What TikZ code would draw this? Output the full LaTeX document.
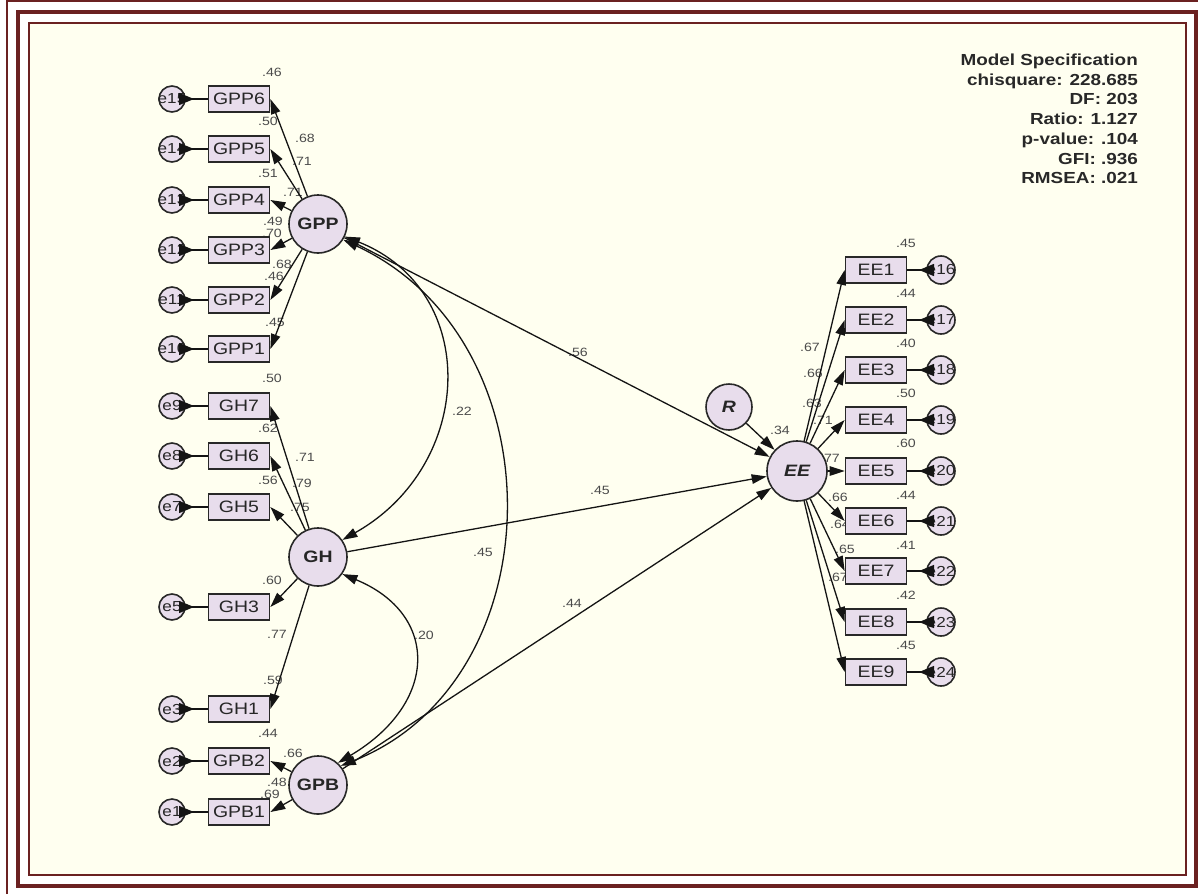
\documentclass[tikz,border=0pt]{standalone}
\usepackage{fontspec}
\setmainfont{Liberation Sans}[FakeStretch=1.18]
\usetikzlibrary{arrows.meta,decorations.markings}
\definecolor{framecol}{RGB}{107,33,33}
\definecolor{paper}{RGB}{255,255,240}
\definecolor{nodefill}{RGB}{232,221,236}
\definecolor{edgecol}{RGB}{40,40,40}
\definecolor{linecol}{RGB}{20,20,20}
\definecolor{numcol}{RGB}{75,75,75}
\definecolor{speccol}{RGB}{40,40,40}
\begin{document}
\begin{tikzpicture}[x=1pt,y=-1pt,
  >={Triangle[length=15pt,width=9.5pt]},
  ln/.style={draw=linecol, line width=1.3pt},
  obs/.style={draw=edgecol, line width=1.7pt, fill=nodefill, minimum width=61pt, minimum height=26pt, inner sep=0pt, font=\fontsize{16.5}{16.5}\selectfont, text=black!85},
  err/.style={circle, draw=edgecol, line width=1.6pt, fill=nodefill, minimum size=#1, inner sep=0pt, font=\fontsize{14.5}{14.5}\selectfont, text=black!85},
  err/.default=26pt,
  lat/.style={circle, draw=edgecol, line width=1.6pt, fill=nodefill, minimum size=#1, inner sep=0pt, font=\bfseries\fontsize{16.5}{16.5}\selectfont, text=black!85},
  lat/.default=58pt,
  num/.style={inner sep=0pt, text=numcol, font=\fontsize{12}{12}\selectfont},
  load/.style={ln, ->},
  cov/.style={ln, <->},
  errpath/.style={ln, shorten <=#1, postaction={decorate},
    decoration={markings, mark=at position 22pt with {\arrow{Triangle[length=15pt,width=12pt]}}}},
  errpath/.default=7pt,
  spec/.style={anchor=base east, inner sep=0pt, font=\bfseries\fontsize{16}{16}\selectfont, text=speccol}
]
\useasboundingbox (0,0) rectangle (1198,894);
% frame
\fill[white] (0,0) rectangle (1198,894);
\draw[framecol, line width=2pt] (7,894) -- (7,1) -- (1198,1);
\draw[framecol, line width=4pt] (18,12) rectangle (1196,886);
\draw[framecol, line width=2pt, fill=paper] (29,23) rectangle (1186,875);

% fit statistics
\node[spec] (s1) at (1138,65.5) {Model Specification};
\node[spec] (s2) at (1138,85.2) {chisquare: 228.685};
\node[spec] (s3) at (1138,104.9) {DF: 203};
\node[spec] (s4) at (1138,124.6) {Ratio: 1.127};
\node[spec] (s5) at (1138,144.3) {p-value: .104};
\node[spec] (s6) at (1138,164) {GFI: .936};
\node[spec] (s7) at (1138,183.7) {RMSEA: .021};

% estimates
\foreach \x/\y/\t [count=\i] in {
  272/72/.46, 268/121/.50, 305/138/.68, 302/161/.71, 268/173/.51, 293/192/.71,
  273/221/.49, 272/233/.70, 282/264/.68, 274/276/.46, 275/322/.45,
  272/378/.50, 268/428/.62, 305/457/.71, 302/483/.79, 268/480/.56, 300/507/.75,
  272/580/.60, 277/634/.77, 273/680/.59,
  268/733/.44, 293/753/.66, 277/782/.48, 270/794/.69,
  906/243/.45, 906/293/.44, 906/343/.40, 906/393/.50, 906/443/.60,
  906/495/.44, 906/545/.41, 906/595/.42, 906/645/.45,
  810/347/.67, 813/373/.66, 812/403/.63, 823/420/.71, 830/458/.77,
  838/497/.66, 840/524/.64, 845/549/.65, 838/577/.67,
  780/430/.34,
  578/352/.56, 600/490/.45, 572/603/.44,
  462/411/.22, 483/552/.45, 424/635/.20}
  \node[num] (est\i) at (\x,\y) {\t};

% latent variables
\node[lat] (gpp) at (318,224) {GPP};
\node[lat] (gh) at (318,557) {GH};
\node[lat] (gpb) at (318,785) {GPB};
\node[lat=60pt] (ee) at (797,471) {\itshape EE};
\node[lat=46pt] (r) at (729,407) {\itshape R};

% left indicators with their error terms
\foreach \n/\t/\y/\e in {gpp6/GPP6/99/e15, gpp5/GPP5/149/e14, gpp4/GPP4/200/e13,
  gpp3/GPP3/250/e12, gpp2/GPP2/300/e11, gpp1/GPP1/349/e10,
  gh7/GH7/406/e9, gh6/GH6/456/e8, gh5/GH5/507/e7, gh3/GH3/607/e5, gh1/GH1/709/e3,
  gpb2/GPB2/761/e2, gpb1/GPB1/812/e1} {
  \node[obs] (\n) at (239,\y) {\t};
  \node[err] (\e) at (172,\y) {\makebox[0pt]{\e}};
}

% right indicators with their error terms
\foreach \n/\t/\y/\e in {ee1/EE1/270/e16, ee2/EE2/320/e17, ee3/EE3/370/e18,
  ee4/EE4/420/e19, ee5/EE5/471/e20, ee6/EE6/521/e21, ee7/EE7/571/e22,
  ee8/EE8/622/e23, ee9/EE9/672/e24} {
  \node[obs] (\n) at (876,\y) {\t};
  \node[err=28pt] (\e) at (941,\y) {\makebox[0pt]{\e}};
}

% error paths
\foreach \e/\n in {e15/gpp6, e14/gpp5, e13/gpp4, e12/gpp3, e11/gpp2, e10/gpp1,
  e9/gh7, e8/gh6, e7/gh5, e5/gh3, e3/gh1, e2/gpb2, e1/gpb1}
  \draw[errpath] (\e.center) -- (\n.west);
\foreach \e/\n in {e16/ee1, e17/ee2, e18/ee3, e19/ee4, e20/ee5, e21/ee6,
  e22/ee7, e23/ee8, e24/ee9}
  \draw[errpath=7pt] (\e.center) -- (\n.east);

% loadings
\foreach \n in {gpp6,gpp5,gpp4,gpp3,gpp2,gpp1} \draw[load] (gpp) -- (\n.east);
\foreach \n in {gh7,gh6,gh5,gh3,gh1} \draw[load] (gh) -- (\n.east);
\foreach \n in {gpb2,gpb1} \draw[load] (gpb) -- (\n.east);
\foreach \n in {ee1,ee2,ee3,ee4,ee5,ee6,ee7,ee8,ee9} \draw[load] (ee) -- (\n.west);

% structural paths
\draw[load] (gpp) -- (ee);
\draw[load] (gh) -- (ee);
\draw[load] (gpb) -- (ee);
\draw[load] (r) -- (ee);

% covariances
\draw[cov] (gpp.-25) .. controls +(136,54) and +(133,-75) .. (gh.35);
\draw[cov] (gpp.-32) .. controls +(217,101) and +(215,-86) .. (gpb.40);
\draw[cov] (gh.-35) .. controls +(97,40) and +(101,-60) .. (gpb.48);
\end{tikzpicture}
\end{document}
